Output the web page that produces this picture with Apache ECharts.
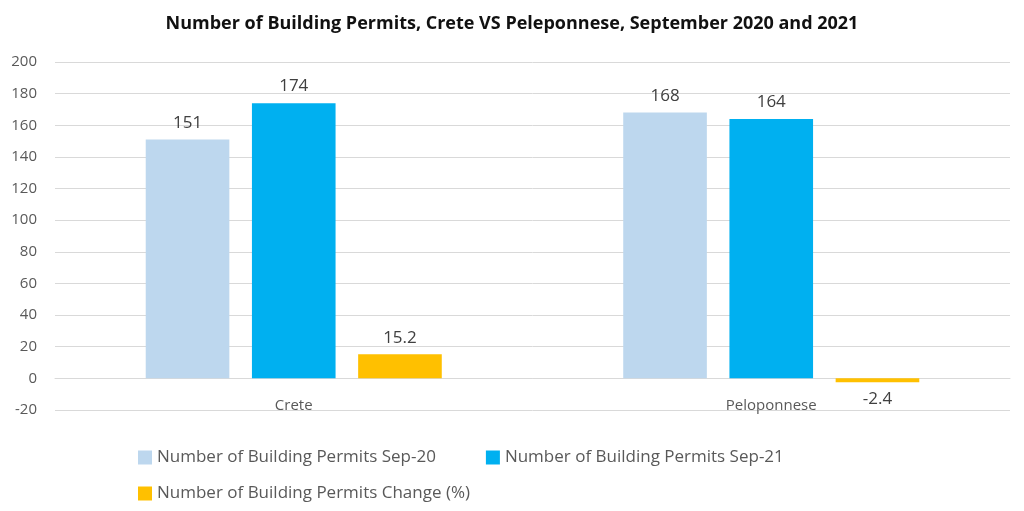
<!DOCTYPE html>
<html>
<head>
<meta charset="utf-8">
<script src="https://cdn.jsdelivr.net/npm/echarts@6/dist/echarts.min.js"></script>
<style>html,body{margin:0;padding:0;background:#fff}</style>
</head>
<body>
<div id="main" style="width:1024px;height:511px"></div>
<script>
var regions = ['Crete', 'Peloponnese'];
var sep20 = [151, 168];
var sep21 = [174, 164];
var change = [15.2, -2.4];
var yTicks = {min: -20, max: 200, interval: 20};

var font = '"Open Sans", "DejaVu Sans", sans-serif';
var names = ['Number of Building Permits Sep-20', 'Number of Building Permits Sep-21', 'Number of Building Permits Change (%)'];
function bar(name, data, color) {
    return {
        name: name,
        type: 'bar',
        data: data.map(function (v) {
            return {value: v, label: {position: v < 0 ? 'bottom' : 'top'}};
        }),
        barGap: '27%',
        barCategoryGap: '38%',
        itemStyle: {color: color},
        label: {show: true, distance: 8, color: '#404040', fontSize: 17, fontFamily: font}
    };
}
var legendText = {fontSize: 17, color: '#595959', fontFamily: font};
var chart = echarts.init(document.getElementById('main'));
chart.setOption({
    animation: false,
    textStyle: {fontFamily: font},
    title: {
        text: 'Number of Building Permits, Crete VS Peleponnese, September 2020 and 2021',
        left: 'center', top: 10,
        textStyle: {fontSize: 18, fontWeight: 'bold', color: '#111', fontFamily: font}
    },
    legend: [
        {data: [names[0], names[1]], left: 133, top: 444, itemWidth: 14, itemHeight: 14, itemGap: 50, icon: 'rect', textStyle: legendText},
        {data: [names[2]], left: 133, top: 480, itemWidth: 14, itemHeight: 14, icon: 'rect', textStyle: legendText}
    ],
    grid: {left: 55, right: 14, top: 62, bottom: 101},
    xAxis: {
        type: 'category',
        data: regions,
        axisLine: {onZero: true, lineStyle: {color: '#d9d9d9'}},
        axisTick: {show: false},
        axisLabel: {margin: -12, fontSize: 15, color: '#595959'}
    },
    yAxis: {
        type: 'value',
        min: yTicks.min, max: yTicks.max, interval: yTicks.interval,
        axisLine: {show: false},
        axisTick: {show: false},
        splitLine: {lineStyle: {color: '#d9d9d9'}},
        axisLabel: {fontSize: 15, color: '#595959', margin: 18}
    },
    series: [
        bar(names[0], sep20, '#bdd7ee'),
        bar(names[1], sep21, '#00b0f0'),
        bar(names[2], change, '#ffc000')
    ]
});
</script>
</body>
</html>
